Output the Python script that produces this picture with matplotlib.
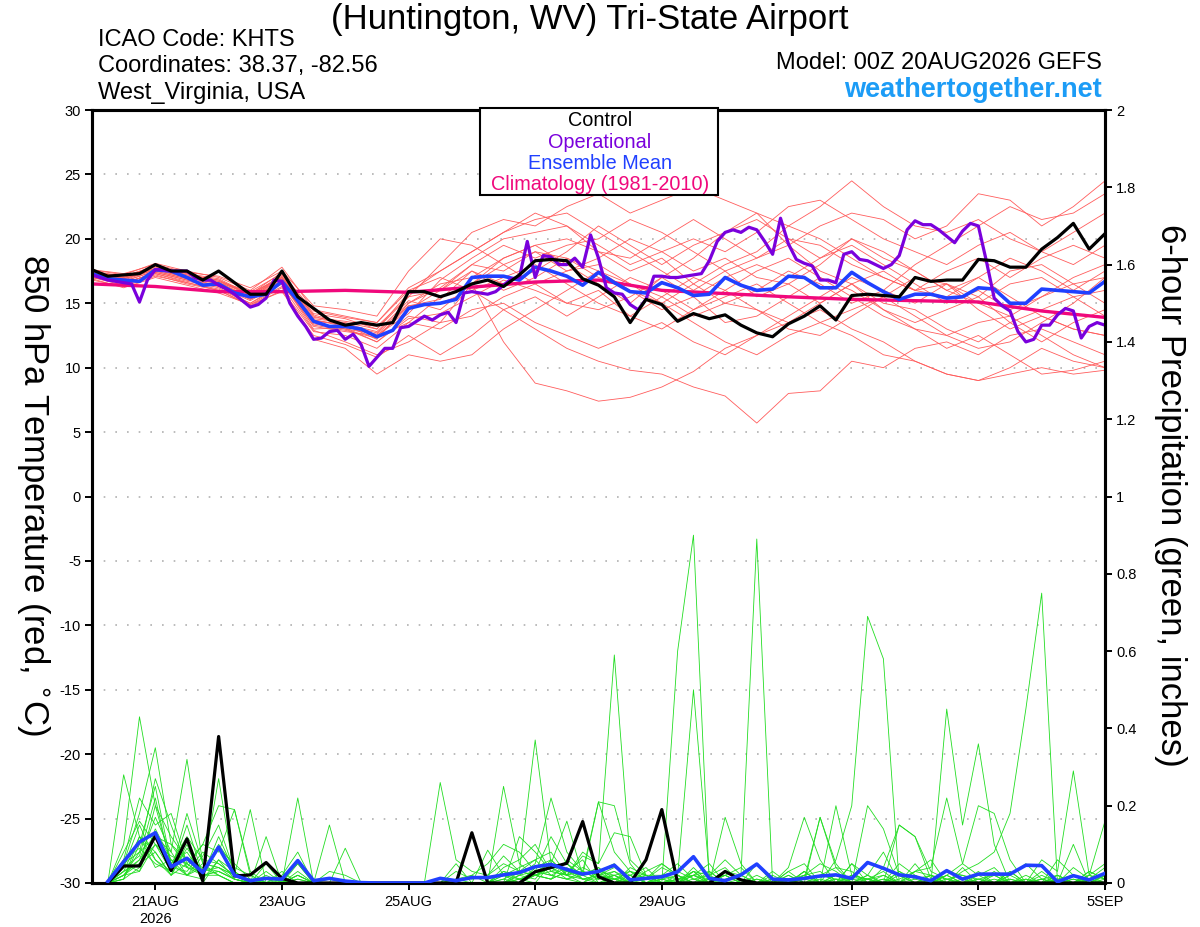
import matplotlib
matplotlib.use("Agg")
import matplotlib.pyplot as plt
import matplotlib.ticker as ticker
from matplotlib.patches import Rectangle
import numpy as np
import pandas as pd

plt.rcParams['font.family'] = ['Liberation Sans', 'DejaVu Sans']
plt.rcParams['axes.unicode_minus'] = False

# run start 00Z 20AUG2026, 6-hourly to 5SEP
start = pd.Timestamp("2026-08-20 00:00")
t3 = pd.date_range(start, periods=129, freq="3h")
t6 = pd.date_range(start, periods=65, freq="6h")
t12 = pd.date_range(start, periods=33, freq="12h")
t24 = pd.date_range(start, periods=17, freq="24h")
t_pcp = t6[1:]

# 850 hPa temperature (C)
control_t = [17.6, 17.1, 17.2, 17.3, 18.0, 17.5, 17.5, 16.8, 17.5, 16.6, 15.7, 15.7, 17.5, 15.5, 14.6, 13.7,
             13.3, 13.5, 13.3, 13.5, 15.9, 15.9, 15.5, 15.9, 16.5, 16.8, 16.3, 17.2, 18.3, 18.4, 18.3, 16.9,
             16.4, 15.5, 13.5, 15.3, 14.9, 13.6, 14.2, 13.8, 14.1, 13.3, 12.7, 12.4, 13.4, 14.0, 14.8, 13.7,
             15.6, 15.7, 15.6, 15.5, 17.0, 16.7, 16.8, 16.8, 18.4, 18.3, 17.8, 17.8, 19.2, 20.1, 21.2, 19.2,
             20.4]
oper_t = [17.2, 17.0, 16.8, 16.7, 16.6, 16.5, 15.1, 16.8, 17.6, 17.6, 17.5, 17.5, 17.5, 17.0, 16.8, 16.8,
          16.4, 16.1, 15.7, 15.2, 14.7, 14.9, 15.4, 16.8, 16.7, 15.0, 14.0, 13.2, 12.2, 12.3, 12.8, 12.9,
          12.2, 12.6, 11.8, 10.1, 10.8, 11.5, 11.5, 13.1, 13.2, 13.6, 14.0, 13.7, 14.1, 14.3, 13.5, 15.8,
          15.9, 15.8, 15.7, 15.9, 16.4, 16.9, 17.0, 19.8, 17.0, 18.7, 18.6, 18.0, 18.0, 18.5, 17.8, 20.3,
          18.5, 16.2, 15.8, 15.7, 14.9, 14.5, 15.3, 17.1, 17.1, 17.0, 17.0, 17.1, 17.2, 17.3, 18.3, 19.8,
          20.5, 20.7, 20.5, 20.9, 20.7, 19.8, 18.8, 21.6, 19.6, 18.4, 18.1, 17.9, 16.8, 16.8, 16.6, 18.8,
          19.0, 18.4, 18.3, 18.0, 17.7, 18.0, 18.7, 20.7, 21.4, 21.1, 21.1, 20.7, 20.2, 19.7, 20.6, 21.2,
          21.0, 18.3, 15.4, 14.8, 14.4, 12.8, 12.0, 12.2, 13.3, 13.3, 14.1, 14.6, 14.4, 12.3, 13.2, 13.5,
          13.3]
mean_t = [17.3, 16.9, 16.8, 16.7, 17.6, 17.5, 17.0, 16.4, 16.5, 15.8, 15.5, 15.7, 16.7, 15.2, 13.6, 13.2,
          13.2, 13.0, 12.4, 12.9, 14.6, 14.9, 15.0, 15.3, 17.0, 17.1, 17.1, 16.8, 17.8, 17.5, 17.1, 16.4,
          17.4, 16.6, 15.9, 15.8, 16.6, 16.2, 15.6, 15.7, 17.0, 16.4, 16.0, 16.1, 17.1, 17.0, 16.2, 16.2,
          17.4, 16.6, 15.9, 15.3, 15.7, 15.7, 15.4, 15.5, 16.2, 16.1, 15.0, 15.0, 16.1, 16.0, 15.9, 15.8,
          16.7]
clim_t = [16.5, 16.3, 15.9, 15.9, 16.0, 15.85, 16.25, 16.65, 16.8, 16.0, 15.75, 15.5, 15.3, 15.2, 15.1,
          14.4, 13.9]

# ensemble members, 12-hourly
members_t = [
    [17.5, 17.0, 17.9, 17.2, 16.8, 15.6, 17.2, 14.2, 13.8, 13.0, 15.8, 17.5, 19.0, 20.5, 21.5, 22.0, 20.5,
     19.0, 17.5, 16.0, 17.5, 15.5, 16.5, 18.0, 20.0, 19.0, 17.5, 16.0, 17.0, 15.5, 14.0, 13.0, 12.5],
    [17.2, 16.5, 17.4, 16.8, 16.2, 15.0, 16.5, 13.5, 13.0, 12.0, 14.0, 13.5, 16.5, 18.5, 19.5, 18.0, 16.5,
     15.0, 17.0, 18.5, 20.5, 22.0, 19.5, 17.5, 16.5, 14.5, 13.0, 12.5, 11.5, 12.0, 13.5, 15.0, 17.0],
    [17.6, 17.2, 18.1, 17.5, 17.0, 16.0, 17.8, 14.5, 14.0, 13.5, 16.0, 17.0, 16.0, 14.5, 13.0, 11.5, 10.5,
     9.8, 9.5, 8.5, 7.8, 5.7, 8.0, 8.2, 10.5, 10.0, 11.5, 12.0, 11.0, 12.5, 13.0, 12.0, 11.0],
    [17.0, 16.4, 17.2, 16.5, 16.0, 14.8, 16.0, 12.8, 12.5, 11.5, 13.5, 15.5, 16.5, 12.0, 8.8, 8.2, 7.4,
     7.7, 8.5, 9.7, 11.5, 12.5, 13.5, 14.5, 13.0, 12.0, 10.5, 9.5, 9.0, 10.0, 11.5, 10.5, 10.0],
    [17.3, 16.9, 17.6, 17.0, 16.6, 15.8, 17.0, 13.8, 13.5, 13.0, 15.5, 18.0, 20.5, 21.5, 21.0, 22.5, 23.5,
     22.0, 23.0, 24.0, 23.0, 22.0, 21.0, 22.5, 24.5, 22.5, 21.0, 20.5, 21.5, 20.0, 19.0, 20.5, 22.0],
    [17.1, 16.6, 17.3, 16.7, 16.3, 15.2, 16.6, 13.2, 12.8, 12.5, 14.5, 16.0, 18.0, 17.5, 19.0, 18.5, 17.5,
     16.0, 15.0, 16.5, 18.0, 19.0, 21.0, 20.0, 18.5, 17.0, 16.0, 15.5, 17.0, 18.5, 17.5, 16.0, 17.5],
    [17.4, 17.1, 17.8, 17.3, 16.9, 15.7, 17.4, 14.0, 13.3, 12.2, 15.0, 16.5, 17.0, 18.5, 19.5, 20.0, 19.0,
     17.5, 18.5, 16.5, 15.0, 16.0, 17.5, 16.5, 15.0, 16.0, 18.0, 19.5, 21.0, 22.5, 21.5, 22.0, 23.5],
    [16.9, 16.2, 17.0, 16.4, 15.8, 14.9, 15.9, 12.5, 11.8, 10.8, 12.5, 11.0, 12.5, 14.5, 15.5, 14.0, 15.5,
     17.0, 16.0, 14.5, 15.5, 16.5, 15.0, 13.5, 14.5, 15.5, 14.0, 12.5, 13.5, 14.0, 12.5, 11.0, 10.0],
    [17.5, 16.9, 17.7, 17.1, 16.5, 15.4, 16.9, 13.4, 13.0, 12.6, 14.8, 15.3, 17.5, 16.5, 17.5, 19.0, 21.0,
     19.5, 18.0, 19.5, 20.5, 21.5, 20.0, 18.5, 19.5, 18.0, 16.5, 15.0, 16.0, 14.5, 15.5, 17.0, 18.0],
    [17.0, 16.7, 17.5, 16.9, 16.4, 15.5, 16.6, 13.0, 13.1, 12.0, 13.8, 14.2, 15.5, 16.8, 16.0, 15.0, 14.5,
     15.5, 17.0, 15.5, 13.5, 14.0, 15.5, 17.0, 16.0, 14.5, 13.5, 14.5, 15.5, 13.5, 12.0, 13.5, 14.5],
    [17.6, 17.3, 18.0, 17.4, 17.1, 16.2, 17.5, 14.8, 14.5, 14.0, 17.5, 20.0, 19.5, 18.0, 16.5, 15.0, 16.0,
     14.0, 13.0, 14.5, 16.0, 17.5, 18.5, 17.0, 15.5, 14.0, 13.0, 11.5, 12.5, 11.0, 9.5, 9.8, 10.5],
    [17.2, 16.8, 17.6, 17.0, 16.5, 15.3, 16.8, 13.6, 13.4, 12.8, 15.2, 14.5, 16.5, 18.0, 19.0, 17.5, 18.5,
     20.0, 19.0, 17.5, 18.5, 17.0, 16.5, 15.0, 16.5, 17.5, 16.0, 17.5, 18.5, 17.0, 18.5, 19.5, 18.5],
    [17.3, 16.7, 17.5, 16.9, 16.7, 15.6, 16.9, 13.7, 13.2, 12.5, 14.2, 16.8, 18.5, 20.0, 20.5, 21.0, 19.0,
     18.5, 20.0, 21.5, 20.0, 18.5, 19.5, 21.0, 22.0, 21.5, 20.0, 21.0, 23.5, 23.0, 21.0, 22.5, 24.5],
    [16.8, 16.3, 17.1, 16.6, 16.0, 14.9, 16.2, 12.2, 11.5, 9.5, 11.0, 10.5, 11.0, 13.0, 14.5, 16.0, 17.5,
     16.5, 15.0, 13.5, 12.0, 11.0, 12.5, 13.5, 12.5, 11.0, 10.5, 9.5, 9.0, 9.5, 10.0, 9.5, 9.8],
    [17.4, 16.9, 17.6, 17.1, 16.6, 15.5, 17.1, 13.9, 13.6, 13.2, 15.5, 16.0, 17.5, 16.0, 17.0, 18.5, 17.0,
     16.0, 14.5, 15.5, 17.0, 18.0, 17.0, 18.5, 20.0, 18.5, 17.5, 16.0, 15.0, 16.5, 17.0, 15.5, 16.0],
    [17.1, 16.5, 17.4, 16.8, 16.4, 15.3, 16.5, 13.3, 12.9, 12.3, 14.8, 15.0, 16.0, 17.0, 18.0, 16.5, 15.0,
     14.0, 15.5, 17.0, 16.0, 14.5, 13.5, 15.0, 16.5, 15.0, 14.5, 13.0, 12.0, 13.5, 14.5, 15.5, 14.0],
    [17.3, 17.0, 17.7, 17.2, 16.8, 15.7, 17.0, 14.1, 13.4, 12.4, 13.5, 13.0, 14.5, 15.0, 13.5, 12.5, 11.5,
     12.5, 13.5, 12.0, 11.0, 12.5, 14.0, 15.5, 17.0, 16.0, 15.0, 16.5, 14.5, 13.0, 14.0, 13.0, 12.5],
    [17.5, 17.1, 17.9, 17.3, 16.7, 15.9, 17.3, 14.4, 13.9, 13.5, 16.2, 17.5, 19.0, 20.5, 22.0, 21.0, 19.5,
     18.0, 19.0, 20.0, 19.0, 20.5, 22.5, 23.0, 21.5, 20.0, 19.0, 18.0, 19.5, 20.5, 19.0, 18.0, 19.5],
    [17.0, 16.6, 17.3, 16.6, 16.1, 15.0, 16.3, 12.9, 12.0, 11.0, 12.0, 13.5, 14.0, 15.5, 16.5, 17.5, 18.0,
     16.5, 15.5, 14.0, 15.0, 14.5, 13.0, 12.5, 14.0, 15.5, 17.0, 16.5, 15.5, 17.5, 18.0, 16.5, 15.0],
    [17.4, 17.0, 17.7, 17.0, 16.6, 15.4, 17.0, 13.7, 13.3, 12.7, 15.0, 16.2, 18.0, 19.5, 18.5, 19.5, 20.0,
     21.5, 20.5, 19.0, 17.5, 18.5, 20.0, 19.5, 18.0, 17.0, 16.0, 16.5, 15.0, 14.0, 15.5, 16.5, 17.0],
]

# 6-hour precipitation (inches), valid at end of each 6-h period
control_p = [0.0, 0.044, 0.044, 0.122, 0.032, 0.114, 0.005, 0.379,
             0.018, 0.021, 0.053, 0.012, 0.0, 0, 0, 0,
             0, 0, 0, 0, 0, 0, 0, 0.130,
             0, 0, 0, 0.029, 0.040, 0.051, 0.159, 0.016,
             0, 0, 0.06, 0.19, 0, 0, 0, 0.03,
             0.008, 0, 0, 0, 0, 0, 0, 0,
             0, 0, 0, 0, 0, 0, 0, 0,
             0, 0, 0, 0, 0, 0, 0, 0]
mean_p = [0.004, 0.055, 0.106, 0.13, 0.042, 0.064, 0.027, 0.093,
          0.02, 0.006, 0.012, 0.01, 0.058, 0.006, 0.012, 0.005,
          0.001, 0, 0, 0, 0, 0.012, 0.006, 0.014,
          0.014, 0.021, 0.027, 0.042, 0.048, 0.035, 0.023, 0.03,
          0.046, 0.008, 0.012, 0.016, 0.029, 0.068, 0.012, 0.006,
          0.021, 0.049, 0.01, 0.008, 0.012, 0.018, 0.021, 0.012,
          0.053, 0.038, 0.021, 0.016, 0.006, 0.032, 0.01, 0.023,
          0.023, 0.023, 0.046, 0.045, 0.003, 0.019, 0.008, 0.025]
members_p = [
    [0, 0.28, 0.12, 0.08, 0.02, 0.10, 0, 0.06, 0.01, 0, 0, 0.02, 0.08, 0, 0, 0,
     0, 0, 0, 0, 0, 0, 0, 0.02, 0.05, 0.10, 0.08, 0.03, 0.12, 0.05, 0.02, 0,
     0, 0.04, 0.02, 0, 0.60, 0.90, 0, 0, 0, 0, 0.03, 0, 0, 0, 0.01, 0,
     0, 0, 0, 0, 0, 0, 0, 0, 0, 0.02, 0.05, 0.01, 0, 0, 0, 0.02],
    [0, 0.10, 0.43, 0.20, 0.05, 0.08, 0.02, 0.12, 0.03, 0, 0.05, 0, 0.02, 0, 0, 0,
     0, 0, 0, 0, 0, 0, 0.05, 0, 0, 0, 0.02, 0.05, 0.22, 0.08, 0.03, 0.21,
     0.20, 0.05, 0, 0, 0, 0.03, 0, 0.17, 0.05, 0, 0, 0, 0.03, 0, 0, 0,
     0.02, 0.08, 0, 0, 0, 0, 0, 0, 0, 0, 0, 0.01, 0, 0.10, 0, 0],
    [0, 0.05, 0.18, 0.35, 0.10, 0.06, 0.04, 0.02, 0, 0, 0, 0, 0.02, 0, 0, 0,
     0, 0, 0, 0, 0, 0, 0, 0, 0, 0.04, 0.06, 0.10, 0.03, 0.02, 0.08, 0.05,
     0.59, 0.06, 0.02, 0, 0, 0.02, 0.03, 0, 0, 0.05, 0, 0, 0.02, 0.05, 0.03, 0,
     0, 0, 0, 0, 0, 0, 0, 0, 0.03, 0, 0.01, 0, 0, 0, 0.02, 0.05],
    [0, 0.02, 0.08, 0.27, 0.15, 0.04, 0.10, 0.20, 0.19, 0.03, 0, 0, 0.22, 0, 0, 0,
     0, 0, 0, 0, 0, 0, 0, 0, 0, 0.02, 0, 0.04, 0.06, 0.02, 0, 0.03,
     0.05, 0, 0.03, 0.05, 0.02, 0.50, 0.02, 0, 0, 0, 0, 0.04, 0.17, 0.06, 0, 0,
     0, 0.04, 0.15, 0.12, 0.03, 0.01, 0, 0, 0, 0, 0, 0, 0.02, 0, 0, 0],
    [0, 0.06, 0.22, 0.15, 0.18, 0.05, 0.02, 0.09, 0.05, 0.01, 0, 0, 0, 0, 0.15, 0,
     0, 0, 0, 0, 0, 0, 0, 0, 0, 0.03, 0.01, 0, 0.05, 0.16, 0.02, 0.04,
     0, 0.02, 0.04, 0, 0, 0.03, 0.02, 0.06, 0.02, 0.89, 0, 0, 0, 0.02, 0.04, 0.03,
     0, 0, 0, 0.03, 0.06, 0, 0, 0, 0, 0.03, 0, 0, 0.06, 0.02, 0, 0],
    [0, 0.03, 0.06, 0.12, 0.08, 0.32, 0.05, 0.04, 0.02, 0, 0, 0.03, 0, 0, 0, 0,
     0, 0, 0, 0, 0, 0, 0, 0, 0, 0.25, 0.05, 0.02, 0.01, 0.03, 0.06, 0,
     0.02, 0, 0, 0.02, 0.05, 0.01, 0, 0, 0, 0, 0.02, 0, 0.03, 0, 0.06, 0.20,
     0.69, 0.58, 0, 0, 0, 0.02, 0, 0, 0, 0, 0, 0, 0, 0.04, 0.01, 0],
    [0, 0.01, 0.10, 0.25, 0.05, 0.02, 0.07, 0.15, 0.03, 0, 0.12, 0, 0.05, 0, 0.03, 0.02,
     0, 0, 0, 0, 0, 0, 0.01, 0, 0.085, 0.02, 0.01, 0.03, 0.02, 0.04, 0.01, 0.02,
     0.03, 0, 0.01, 0.04, 0.02, 0, 0, 0.02, 0, 0, 0, 0, 0.01, 0.17, 0.04, 0,
     0, 0, 0.05, 0.02, 0, 0.45, 0.15, 0.36, 0.10, 0, 0, 0, 0, 0, 0.03, 0.01],
    [0, 0.04, 0.15, 0.06, 0.03, 0.15, 0.02, 0.03, 0.01, 0, 0, 0, 0, 0, 0, 0,
     0, 0, 0, 0, 0, 0, 0, 0, 0, 0, 0.03, 0.06, 0.08, 0.02, 0.04, 0.02,
     0.04, 0.02, 0, 0, 0, 0.02, 0.05, 0, 0, 0, 0, 0.03, 0, 0, 0.02, 0,
     0.02, 0, 0.03, 0, 0.02, 0, 0.03, 0.05, 0.08, 0.18, 0.45, 0.75, 0, 0.01, 0, 0.02],
    [0, 0.02, 0.05, 0.10, 0.03, 0.18, 0.05, 0.02, 0, 0, 0, 0, 0, 0, 0, 0,
     0, 0, 0, 0, 0, 0, 0, 0, 0, 0, 0, 0.02, 0.01, 0.06, 0.03, 0.01,
     0.02, 0.03, 0, 0.02, 0.03, 0.01, 0.02, 0.04, 0, 0, 0, 0, 0.03, 0, 0, 0.02,
     0, 0.02, 0, 0.03, 0.04, 0.22, 0.05, 0.02, 0.04, 0, 0, 0.06, 0.03, 0.29, 0.02, 0.16],
    [0, 0.05, 0.08, 0.12, 0.10, 0.04, 0.03, 0.27, 0.02, 0, 0, 0, 0.06, 0, 0, 0,
     0, 0, 0, 0, 0, 0.26, 0.06, 0.03, 0.02, 0.07, 0.03, 0.02, 0.04, 0.05, 0.01, 0,
     0.01, 0, 0.02, 0, 0.01, 0.03, 0, 0, 0, 0.01, 0, 0, 0, 0, 0, 0.05,
     0.02, 0, 0.03, 0.01, 0, 0.02, 0.05, 0.20, 0.18, 0.06, 0, 0, 0.02, 0, 0, 0],
    [0, 0.08, 0.16, 0.10, 0.05, 0.12, 0.06, 0.05, 0.02, 0.01, 0, 0, 0, 0, 0, 0,
     0, 0, 0, 0, 0, 0, 0.03, 0.01, 0.02, 0.05, 0.03, 0.37, 0.05, 0.03, 0.02, 0.21,
     0.08, 0.03, 0.01, 0.05, 0.02, 0, 0.01, 0.02, 0.04, 0, 0, 0, 0, 0, 0.20, 0.02,
     0.01, 0.03, 0, 0, 0.02, 0, 0, 0.03, 0, 0.02, 0, 0.01, 0.02, 0, 0.02, 0],
    [0, 0.03, 0.12, 0.06, 0.02, 0.05, 0.10, 0.08, 0.19, 0.02, 0, 0, 0, 0, 0, 0,
     0, 0, 0, 0, 0, 0, 0.01, 0.02, 0, 0, 0.12, 0.08, 0.03, 0.02, 0.07, 0.05,
     0.13, 0.12, 0.02, 0, 0.01, 0, 0, 0.03, 0.01, 0, 0, 0.02, 0, 0.17, 0.05, 0,
     0.20, 0.14, 0.02, 0, 0, 0, 0.04, 0, 0.02, 0, 0, 0.01, 0, 0, 0.03, 0.01],
    [0, 0.01, 0.04, 0.20, 0.12, 0.06, 0.02, 0.03, 0.01, 0, 0.02, 0, 0.03, 0, 0, 0,
     0, 0, 0, 0, 0, 0, 0, 0, 0, 0, 0, 0.02, 0.04, 0.02, 0.01, 0.02,
     0, 0.02, 0, 0.01, 0.02, 0, 0.03, 0, 0, 0, 0, 0.01, 0.02, 0.03, 0, 0.05,
     0, 0, 0.15, 0.12, 0.01, 0, 0, 0.02, 0, 0, 0.02, 0, 0, 0, 0.01, 0.04],
    [0, 0.06, 0.09, 0.05, 0.03, 0.02, 0.05, 0.04, 0.02, 0.19, 0, 0, 0.02, 0, 0, 0,
     0, 0, 0, 0, 0, 0, 0, 0, 0, 0.03, 0.02, 0.01, 0.06, 0.02, 0.03, 0.01,
     0.03, 0.01, 0.02, 0.02, 0, 0.04, 0, 0.03, 0.02, 0, 0.01, 0, 0.02, 0, 0, 0.02,
     0.01, 0.02, 0, 0.05, 0, 0.03, 0.02, 0.01, 0, 0.03, 0, 0, 0, 0.02, 0, 0.01],
    [0, 0.02, 0.03, 0.14, 0.06, 0.04, 0.02, 0.10, 0.04, 0.02, 0, 0, 0, 0, 0, 0.09,
     0, 0, 0, 0, 0, 0, 0, 0, 0, 0, 0.02, 0.03, 0.05, 0.03, 0.02, 0.03,
     0.02, 0, 0, 0.02, 0.01, 0.02, 0, 0.02, 0, 0, 0, 0.03, 0.05, 0, 0, 0.01,
     0.01, 0, 0.01, 0.03, 0.02, 0.01, 0, 0.01, 0.02, 0, 0, 0.03, 0, 0, 0, 0],
    [0, 0.04, 0.07, 0.22, 0.04, 0.03, 0.08, 0.05, 0.02, 0, 0.03, 0, 0.01, 0, 0, 0,
     0, 0, 0, 0, 0, 0, 0, 0, 0, 0.02, 0.04, 0.06, 0.02, 0.01, 0.03, 0.02,
     0.01, 0.03, 0.02, 0, 0.01, 0.02, 0.01, 0, 0, 0.02, 0, 0, 0.01, 0.02, 0.01, 0,
     0, 0.01, 0, 0, 0, 0.01, 0.02, 0, 0, 0.01, 0, 0, 0.01, 0.02, 0, 0],
    [0, 0.03, 0.05, 0.08, 0.02, 0.09, 0.03, 0.04, 0.01, 0, 0, 0.01, 0.05, 0, 0, 0,
     0, 0, 0, 0, 0, 0, 0, 0, 0, 0.01, 0.03, 0.02, 0.03, 0.05, 0.02, 0.04,
     0.01, 0.02, 0, 0, 0, 0.01, 0, 0.01, 0.02, 0, 0, 0, 0, 0.01, 0, 0.02,
     0.01, 0, 0, 0.01, 0.02, 0, 0, 0.01, 0, 0, 0.01, 0, 0, 0, 0.02, 0.01],
    [0, 0.01, 0.12, 0.04, 0.06, 0.02, 0.01, 0.06, 0.03, 0, 0, 0, 0, 0, 0.01, 0,
     0, 0, 0, 0, 0, 0, 0, 0, 0, 0, 0.01, 0.02, 0.01, 0.03, 0.01, 0.01,
     0.02, 0, 0, 0.01, 0, 0, 0.01, 0.02, 0, 0, 0.01, 0, 0, 0, 0.02, 0,
     0, 0, 0.02, 0, 0.01, 0, 0, 0, 0.01, 0, 0, 0, 0.01, 0, 0, 0.02],
    [0, 0.02, 0.06, 0.17, 0.08, 0.02, 0.04, 0.03, 0.01, 0, 0, 0, 0.01, 0, 0, 0,
     0, 0, 0, 0, 0, 0, 0, 0, 0, 0.01, 0, 0.03, 0.02, 0.01, 0.02, 0.03,
     0, 0.01, 0.01, 0, 0.02, 0, 0, 0, 0.01, 0, 0, 0.02, 0, 0, 0.01, 0.01,
     0, 0.01, 0, 0, 0, 0.02, 0, 0, 0, 0, 0, 0.02, 0, 0.01, 0, 0],
    [0, 0.05, 0.03, 0.10, 0.07, 0.05, 0.02, 0.02, 0, 0, 0.01, 0, 0, 0, 0, 0,
     0, 0, 0, 0, 0, 0, 0, 0, 0, 0, 0.01, 0.02, 0.04, 0.01, 0, 0.02,
     0.01, 0, 0, 0.01, 0, 0.02, 0, 0, 0, 0.01, 0, 0, 0.01, 0, 0, 0,
     0.01, 0, 0, 0.02, 0, 0, 0.01, 0, 0, 0.01, 0, 0, 0, 0, 0.01, 0],
]

tick_dates = pd.to_datetime(["2026-08-21", "2026-08-23", "2026-08-25", "2026-08-27",
                             "2026-08-29", "2026-09-01", "2026-09-03", "2026-09-05"])
tick_labels = ["21AUG\n2026", "23AUG", "25AUG", "27AUG", "29AUG", "1SEP", "3SEP", "5SEP"]

legend_items = ["Control", "Operational", "Ensemble Mean", "Climatology (1981-2010)"]

C_CTRL = "black"
C_OPER = "#7a00dc"
C_MEAN = "#2040ff"
C_CLIM = "#f0087c"
C_MEMT = "#ff5c5c"
C_MEMP = "#22dd22"

W, H = 1200, 927
fig = plt.figure(figsize=(12, 9.27), dpi=100)
ax = fig.add_axes([92 / W, 1 - 883 / H, (1105 - 92) / W, (883 - 110) / H])
ax2 = ax.twinx()

# temperature
for m in members_t:
    ax.plot(t12, m, color=C_MEMT, lw=0.6, zorder=2)
ax.plot(t24, clim_t, color=C_CLIM, lw=2.4, zorder=4)
ax.plot(t6, mean_t, color=C_MEAN, lw=2.6, zorder=5)
ax.plot(t3, oper_t, color=C_OPER, lw=2.3, zorder=6)
ax.plot(t6, control_t, color=C_CTRL, lw=2.3, zorder=7)

for y in range(-25, 30, 5):
    ax.axhline(y, color="#b0b0b0", lw=1.2, linestyle=(0, (1, 6)), zorder=1)

ax.set_ylim(-30, 30)
ax.set_yticks(range(-30, 31, 5))
ax.set_xlim(t6[0], t6[-1])
ax.set_xticks(tick_dates)
ax.set_xticklabels(tick_labels)

# precipitation
for m in members_p:
    ax2.plot(t_pcp, m, color=C_MEMP, lw=0.6, zorder=2)
ax2.plot(t_pcp, control_p, color=C_CTRL, lw=2.3, zorder=4)
ax2.plot(t_pcp, mean_p, color=C_MEAN, lw=2.6, zorder=5)
ax2.set_ylim(0, 2)
ax2.set_yticks(np.arange(0, 2.01, 0.2))
ax2.yaxis.set_major_formatter(ticker.FuncFormatter(lambda v, p: f"{v:g}"))

for a in (ax, ax2):
    for s in a.spines.values():
        s.set_linewidth(2.2)
    a.tick_params(direction="out", length=5, width=1.4, labelsize=10.5, pad=3)
ax.tick_params(axis="x", labelsize=10.5, pad=4)

# legend box
ax2.add_patch(Rectangle((0.383, 0.890), 0.235, 0.113, transform=ax2.transAxes,
                        facecolor="white", edgecolor="black", lw=1.5, zorder=10, clip_on=False))
for k, (txt, col) in enumerate(zip(legend_items, [C_CTRL, C_OPER, C_MEAN, C_CLIM])):
    ax2.text(0.5015, 0.9858 - k * 0.0274, txt, color=col, fontsize=14.3, ha="center", va="center",
             transform=ax2.transAxes, zorder=11)

# headers
fig.text(590 / W, 1 - 19 / H, "(Huntington, WV) Tri-State Airport", fontsize=25, ha="center", va="center")
fig.text(98 / W, 1 - 40 / H, "ICAO Code: KHTS", fontsize=17, ha="left", va="center")
fig.text(98 / W, 1 - 66 / H, "Coordinates: 38.37, -82.56", fontsize=17, ha="left", va="center")
fig.text(98 / W, 1 - 93 / H, "West_Virginia, USA", fontsize=17, ha="left", va="center")
fig.text(1102 / W, 1 - 63 / H, "Model: 00Z 20AUG2026 GEFS", fontsize=17, ha="right", va="center")
fig.text(1102 / W, 1 - 90 / H, "weathertogether.net", fontsize=19.5, ha="right", va="center",
         color="#1c9cf6", fontweight="bold")

fig.text(33 / W, 1 - 495 / H, "850 hPa Temperature (red, $^{\\circ}$C)", fontsize=25, rotation=-90,
         ha="center", va="center")
fig.text(1170 / W, 1 - 495 / H, "6-hour Precipitation (green, inches)", fontsize=25, rotation=-90,
         ha="center", va="center")

fig.savefig("out.png", dpi=100)
